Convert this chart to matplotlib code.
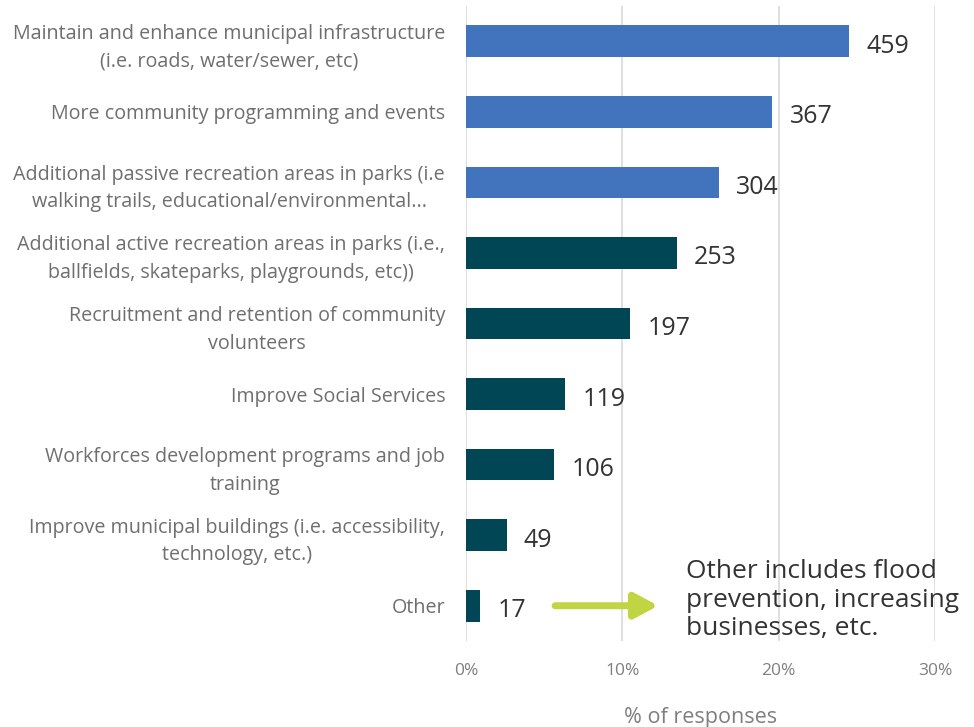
import matplotlib.pyplot as plt

plt.rcParams['font.family'] = ['Open Sans', 'DejaVu Sans']

# Data
categories = [
    "Maintain and enhance municipal infrastructure\n(i.e. roads, water/sewer, etc)",
    "More community programming and events",
    "Additional passive recreation areas in parks (i.e\nwalking trails, educational/environmental...",
    "Additional active recreation areas in parks (i.e.,\nballfields, skateparks, playgrounds, etc))",
    "Recruitment and retention of community\nvolunteers",
    "Improve Social Services",
    "Workforces development programs and job\ntraining",
    "Improve municipal buildings (i.e. accessibility,\ntechnology, etc.)",
    "Other",
]
counts = [459, 367, 304, 253, 197, 119, 106, 49, 17]
percents = [24.5, 19.6, 16.2, 13.5, 10.5, 6.35, 5.66, 2.6, 0.9]
colors = ['#4274BE'] * 3 + ['#014654'] * 6
xticks = [0, 10, 20, 30]
xtick_labels = ['0%', '10%', '20%', '30%']

fig = plt.figure(figsize=(9.74, 7.27), dpi=100)
ax = fig.add_axes([0.4784, 0.1183, 0.4815, 0.8734])

ypos = list(range(len(categories)))
ax.barh(ypos, percents, height=0.45, color=colors, zorder=3)

# Value labels
for y, p, c in zip(ypos, percents, counts):
    ax.text(p + 1.1, y + 0.07, str(c), va='center', ha='left',
            fontsize=18, color='#333333')

ax.set_xlim(0, 30)
ax.set_ylim(len(categories) - 0.5, -0.5)
ax.set_xticks(xticks)
ax.set_xticklabels(xtick_labels, fontsize=12.5, color='#7F7F7F')
ax.set_yticks(ypos)
ax.set_yticklabels(categories, fontsize=14.2, color='#6F6F6F',
                   multialignment='center', linespacing=1.5)
ax.tick_params(axis='both', length=0)
ax.tick_params(axis='y', pad=15)
ax.tick_params(axis='x', pad=16)

ax.grid(axis='x', color='#D9D9D9', linewidth=1.2, zorder=0)
for s in ax.spines.values():
    s.set_visible(False)

ax.set_xlabel('% of responses', fontsize=15.5, color='#7F7F7F', labelpad=20)

# Annotation for "Other"
ax.annotate('', xy=(12.3, 8), xytext=(5.7, 8),
            arrowprops=dict(arrowstyle='-|>,head_width=0.42,head_length=0.78',
                            mutation_scale=18, color='#C0D541', lw=5,
                            shrinkA=0, shrinkB=0))
ax.text(14.06, 7.92, 'Other includes flood\nprevention, increasing\nbusinesses, etc.',
        ha='left', va='center', fontsize=19, color='#333333',
        linespacing=1.2, clip_on=False)

fig.savefig('out.png', dpi=100)
